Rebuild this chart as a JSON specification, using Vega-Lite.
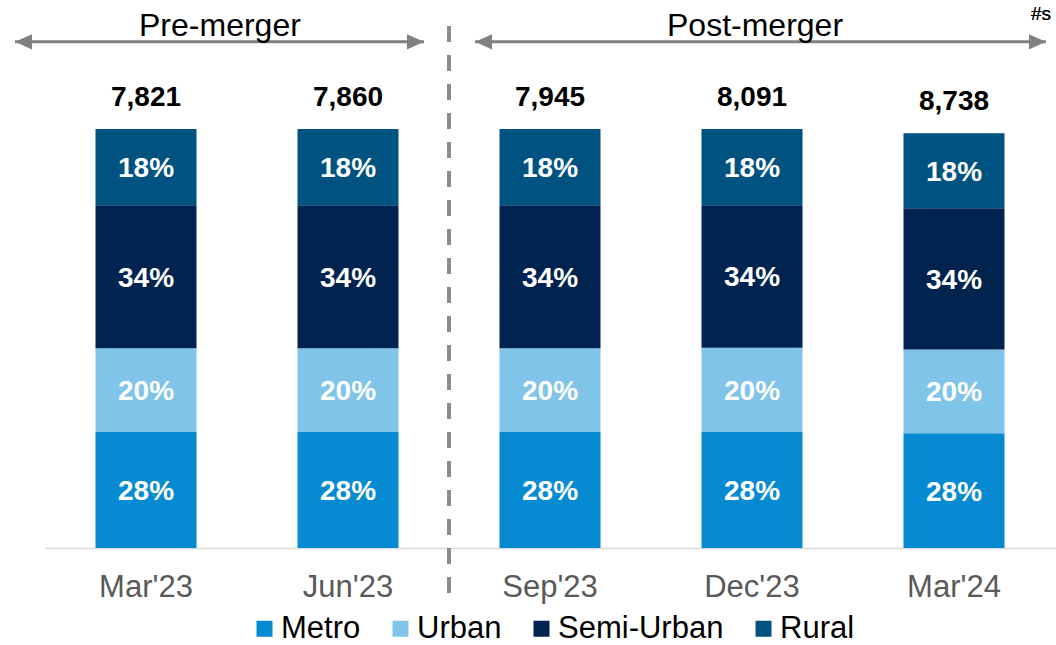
{
  "$schema": "https://vega.github.io/schema/vega-lite/v6.json",
  "width": 1010,
  "height": 419,
  "autosize": {"type": "none"},
  "padding": {"left": 45, "top": 129, "right": 1, "bottom": 97},
  "background": "white",
  "config": {
    "view": {"stroke": null},
    "font": "Liberation Sans",
    "text": {"font": "Liberation Sans"}
  },
  "datasets": {
    "shares": [
      {"quarter": "Mar'23", "region": "Metro", "share": 27.7, "label": "28%", "total": 7821},
      {"quarter": "Mar'23", "region": "Urban", "share": 20.0, "label": "20%", "total": 7821},
      {"quarter": "Mar'23", "region": "Semi-Urban", "share": 34.1, "label": "34%", "total": 7821},
      {"quarter": "Mar'23", "region": "Rural", "share": 18.2, "label": "18%", "total": 7821},
      {"quarter": "Jun'23", "region": "Metro", "share": 27.7, "label": "28%", "total": 7860},
      {"quarter": "Jun'23", "region": "Urban", "share": 20.0, "label": "20%", "total": 7860},
      {"quarter": "Jun'23", "region": "Semi-Urban", "share": 34.1, "label": "34%", "total": 7860},
      {"quarter": "Jun'23", "region": "Rural", "share": 18.2, "label": "18%", "total": 7860},
      {"quarter": "Sep'23", "region": "Metro", "share": 27.7, "label": "28%", "total": 7945},
      {"quarter": "Sep'23", "region": "Urban", "share": 20.0, "label": "20%", "total": 7945},
      {"quarter": "Sep'23", "region": "Semi-Urban", "share": 34.1, "label": "34%", "total": 7945},
      {"quarter": "Sep'23", "region": "Rural", "share": 18.2, "label": "18%", "total": 7945},
      {"quarter": "Dec'23", "region": "Metro", "share": 27.7, "label": "28%", "total": 8091},
      {"quarter": "Dec'23", "region": "Urban", "share": 20.1, "label": "20%", "total": 8091},
      {"quarter": "Dec'23", "region": "Semi-Urban", "share": 34.0, "label": "34%", "total": 8091},
      {"quarter": "Dec'23", "region": "Rural", "share": 18.2, "label": "18%", "total": 8091},
      {"quarter": "Mar'24", "region": "Metro", "share": 27.4, "label": "28%", "total": 8738},
      {"quarter": "Mar'24", "region": "Urban", "share": 20.0, "label": "20%", "total": 8738},
      {"quarter": "Mar'24", "region": "Semi-Urban", "share": 33.7, "label": "34%", "total": 8738},
      {"quarter": "Mar'24", "region": "Rural", "share": 17.9, "label": "18%", "total": 8738}
    ],
    "eras": [
      {"era": "Pre-merger", "start": -0.1485, "end": 1.876, "mid": 0.866},
      {"era": "Post-merger", "start": 2.129, "end": 4.955, "mid": 3.515}
    ]
  },
  "layer": [
    {
      "data": {"name": "shares"},
      "transform": [
        {"calculate": "indexof(['Metro','Urban','Semi-Urban','Rural'], datum.region)", "as": "rk"}
      ],
      "layer": [
        {
          "mark": {"type": "bar"},
          "encoding": {
            "x": {
              "field": "quarter", "type": "nominal", "sort": null,
              "scale": {"paddingInner": 0.5, "paddingOuter": 0.25},
              "axis": {
                "title": null, "labelAngle": 0, "ticks": false, "tickSize": 0,
                "labelFont": "Liberation Sans", "labelFontSize": 31, "labelColor": "#595959",
                "labelBaseline": "alphabetic", "labelPadding": 48,
                "domainColor": "#D9D9D9", "domainWidth": 1.5
              }
            },
            "y": {
              "field": "share", "type": "quantitative", "stack": "zero",
              "scale": {"domain": [0, 100], "nice": false, "zero": true},
              "axis": null
            },
            "color": {
              "field": "region", "type": "nominal",
              "scale": {
                "domain": ["Metro", "Urban", "Semi-Urban", "Rural"],
                "range": ["#068BD2", "#80C4E9", "#00234F", "#005381"]
              },
              "legend": {
                "orient": "none", "legendX": 204, "legendY": 484,
                "direction": "horizontal", "columns": 4, "title": null,
                "symbolType": "square", "symbolSize": 256, "symbolStrokeWidth": 0,
                "labelFont": "Liberation Sans", "labelFontSize": 31, "labelColor": "#000000",
                "labelLimit": 400,
                "columnPadding": 24, "labelOffset": 1, "padding": 0
              }
            },
            "order": {"field": "rk", "type": "quantitative"}
          }
        },
        {
          "transform": [
            {"stack": "share", "groupby": ["quarter"], "sort": [{"field": "rk", "order": "ascending"}], "as": ["s0", "s1"]},
            {"calculate": "(datum.s0 + datum.s1) / 2", "as": "smid"}
          ],
          "mark": {"type": "text", "color": "#FFFFFF", "fontWeight": "bold", "fontSize": 28, "baseline": "middle", "align": "center", "dy": 2},
          "encoding": {
            "x": {"field": "quarter", "type": "nominal", "sort": null},
            "y": {"field": "smid", "type": "quantitative"},
            "text": {"field": "label", "type": "nominal"}
          }
        },
        {
          "mark": {"type": "text", "color": "#000000", "fontWeight": "bold", "fontSize": 28, "baseline": "alphabetic", "align": "center", "dy": -23},
          "encoding": {
            "x": {"field": "quarter", "type": "nominal", "sort": null},
            "y": {"aggregate": "sum", "field": "share", "type": "quantitative"},
            "text": {"aggregate": "max", "field": "total", "type": "quantitative", "format": ","}
          }
        }
      ]
    },
    {
      "data": {"name": "eras"},
      "layer": [
        {
          "mark": {"type": "rule", "color": "#808080", "strokeWidth": 3},
          "encoding": {
            "x": {"field": "start", "type": "quantitative", "scale": {"domain": [0, 5], "nice": false, "zero": false}, "axis": null},
            "x2": {"field": "end"},
            "y": {"datum": 120.8, "type": "quantitative", "scale": {"domain": [0, 100], "nice": false, "zero": false}, "axis": null}
          }
        },
        {
          "mark": {"type": "point", "shape": "M0,0L2,-0.9L2,0.9Z", "filled": true, "color": "#808080", "opacity": 1, "size": 289, "strokeWidth": 0},
          "encoding": {
            "x": {"field": "start", "type": "quantitative", "scale": {"domain": [0, 5], "nice": false, "zero": false}},
            "y": {"datum": 120.8, "type": "quantitative", "scale": {"domain": [0, 100], "nice": false, "zero": false}}
          }
        },
        {
          "mark": {"type": "point", "shape": "M0,0L-2,-0.9L-2,0.9Z", "filled": true, "color": "#808080", "opacity": 1, "size": 289, "strokeWidth": 0},
          "encoding": {
            "x": {"field": "end", "type": "quantitative", "scale": {"domain": [0, 5], "nice": false, "zero": false}},
            "y": {"datum": 120.8, "type": "quantitative", "scale": {"domain": [0, 100], "nice": false, "zero": false}}
          }
        },
        {
          "mark": {"type": "text", "color": "#000000", "fontSize": 32, "align": "center", "baseline": "alphabetic"},
          "encoding": {
            "x": {"field": "mid", "type": "quantitative", "scale": {"domain": [0, 5], "nice": false, "zero": false}},
            "y": {"datum": 122.2, "type": "quantitative", "scale": {"domain": [0, 100], "nice": false, "zero": false}},
            "text": {"field": "era", "type": "nominal"}
          }
        },
        {
          "mark": {"type": "rule", "color": "#8C8C8C", "strokeWidth": 4, "strokeDash": [16, 13]},
          "encoding": {
            "x": {"datum": 2.0, "type": "quantitative", "scale": {"domain": [0, 5], "nice": false, "zero": false}},
            "y": {"datum": 124.6, "type": "quantitative", "scale": {"domain": [0, 100], "nice": false, "zero": false}},
            "y2": {"datum": -11.2}
          }
        },
        {
          "mark": {"type": "text", "color": "#000000", "fontSize": 19, "align": "left", "baseline": "alphabetic"},
          "encoding": {
            "x": {"datum": 4.881, "type": "quantitative", "scale": {"domain": [0, 5], "nice": false, "zero": false}},
            "y": {"datum": 126.0, "type": "quantitative", "scale": {"domain": [0, 100], "nice": false, "zero": false}},
            "text": {"value": "#s"}
          }
        }
      ]
    }
  ],
  "resolve": {"scale": {"x": "independent", "y": "independent"}}
}
